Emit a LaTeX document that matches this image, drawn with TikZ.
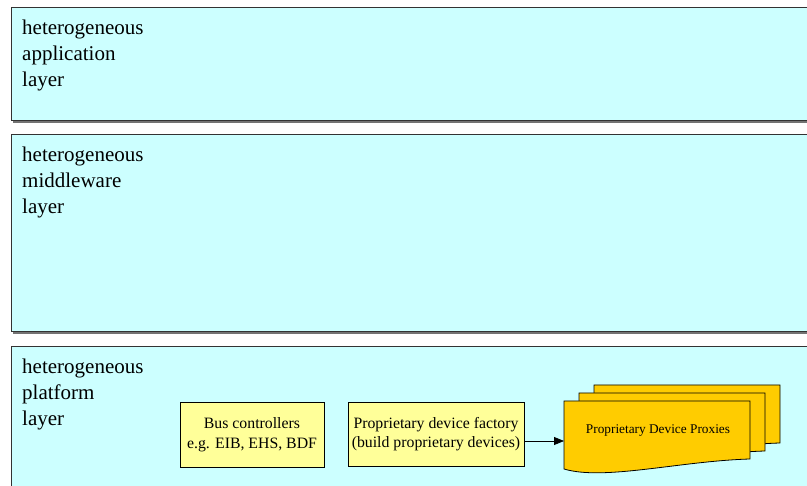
\documentclass[tikz,border=0pt]{standalone}
\usepackage{fontspec}
\setmainfont{Liberation Serif}
\usetikzlibrary{arrows.meta}
\definecolor{layercyan}{HTML}{CCFFFF}
\definecolor{boxyellow}{HTML}{FFFF99}
\definecolor{proxygold}{HTML}{FFCC00}
\tikzset{
  layer/.style={draw=black!80,fill=layercyan,line width=1pt,rectangle,anchor=north west,inner sep=0pt,outer sep=0pt,minimum width=801pt},
  layershadow/.style={fill=black!55},
  layertext/.style={anchor=north west,inner sep=0pt,align=left,font=\fontsize{21}{26}\selectfont},
  unit/.style={draw=black,fill=boxyellow,line width=0.8pt,align=center,minimum height=65pt,inner sep=0pt,font=\fontsize{15.8}{19.6}\selectfont},
  proxy/.style={draw=black,fill=proxygold,line width=0.8pt},
}
% one page of the stacked proxy documents, #1,#2 = top left corner
\newcommand{\docpage}[2]{\draw[proxy](#1,#2)--++(186,0)--++(0,58) .. controls +(-70,2) and +(40,12) .. ++(-186,10)--cycle;}
\begin{document}
\begin{tikzpicture}[x=1pt,y=-1pt]
\useasboundingbox[fill=white](0,0)rectangle(807,486);
\clip(0,0)rectangle(807,486);
% the three layers
\fill[layershadow](13,10)rectangle(814,123);
\node[layer,minimum height=113pt](app)at(11,8){};
\fill[layershadow](13,137)rectangle(814,334);
\node[layer,minimum height=197pt](mid)at(11,135){};
\fill[layershadow](13,349)rectangle(814,500);
\node[layer,minimum height=150pt](plat)at(11,347){};
\node[layertext]at(22,20){heterogeneous\\application\\layer};
\node[layertext]at(22,147){heterogeneous\\middleware\\layer};
\node[layertext]at(22,359){heterogeneous\\platform\\layer};
% platform contents
\node[unit,minimum width=144pt](bus)at(252,434.5){Bus controllers\\e.g. EIB, EHS, BDF};
\node[unit,minimum width=176pt,minimum height=64pt](factory)at(436,434){Proprietary device factory\\(build proprietary devices)};
\docpage{594}{385}
\docpage{579}{393}
\docpage{564}{401}
\node[font=\fontsize{13.3}{16}\selectfont](proxies)at(658,431){Proprietary Device Proxies};
\coordinate(in)at(564,441);
\draw[-{Triangle[length=10pt,width=8pt]},line width=0.8pt](factory.east|-in)--(in);
\end{tikzpicture}
\end{document}
